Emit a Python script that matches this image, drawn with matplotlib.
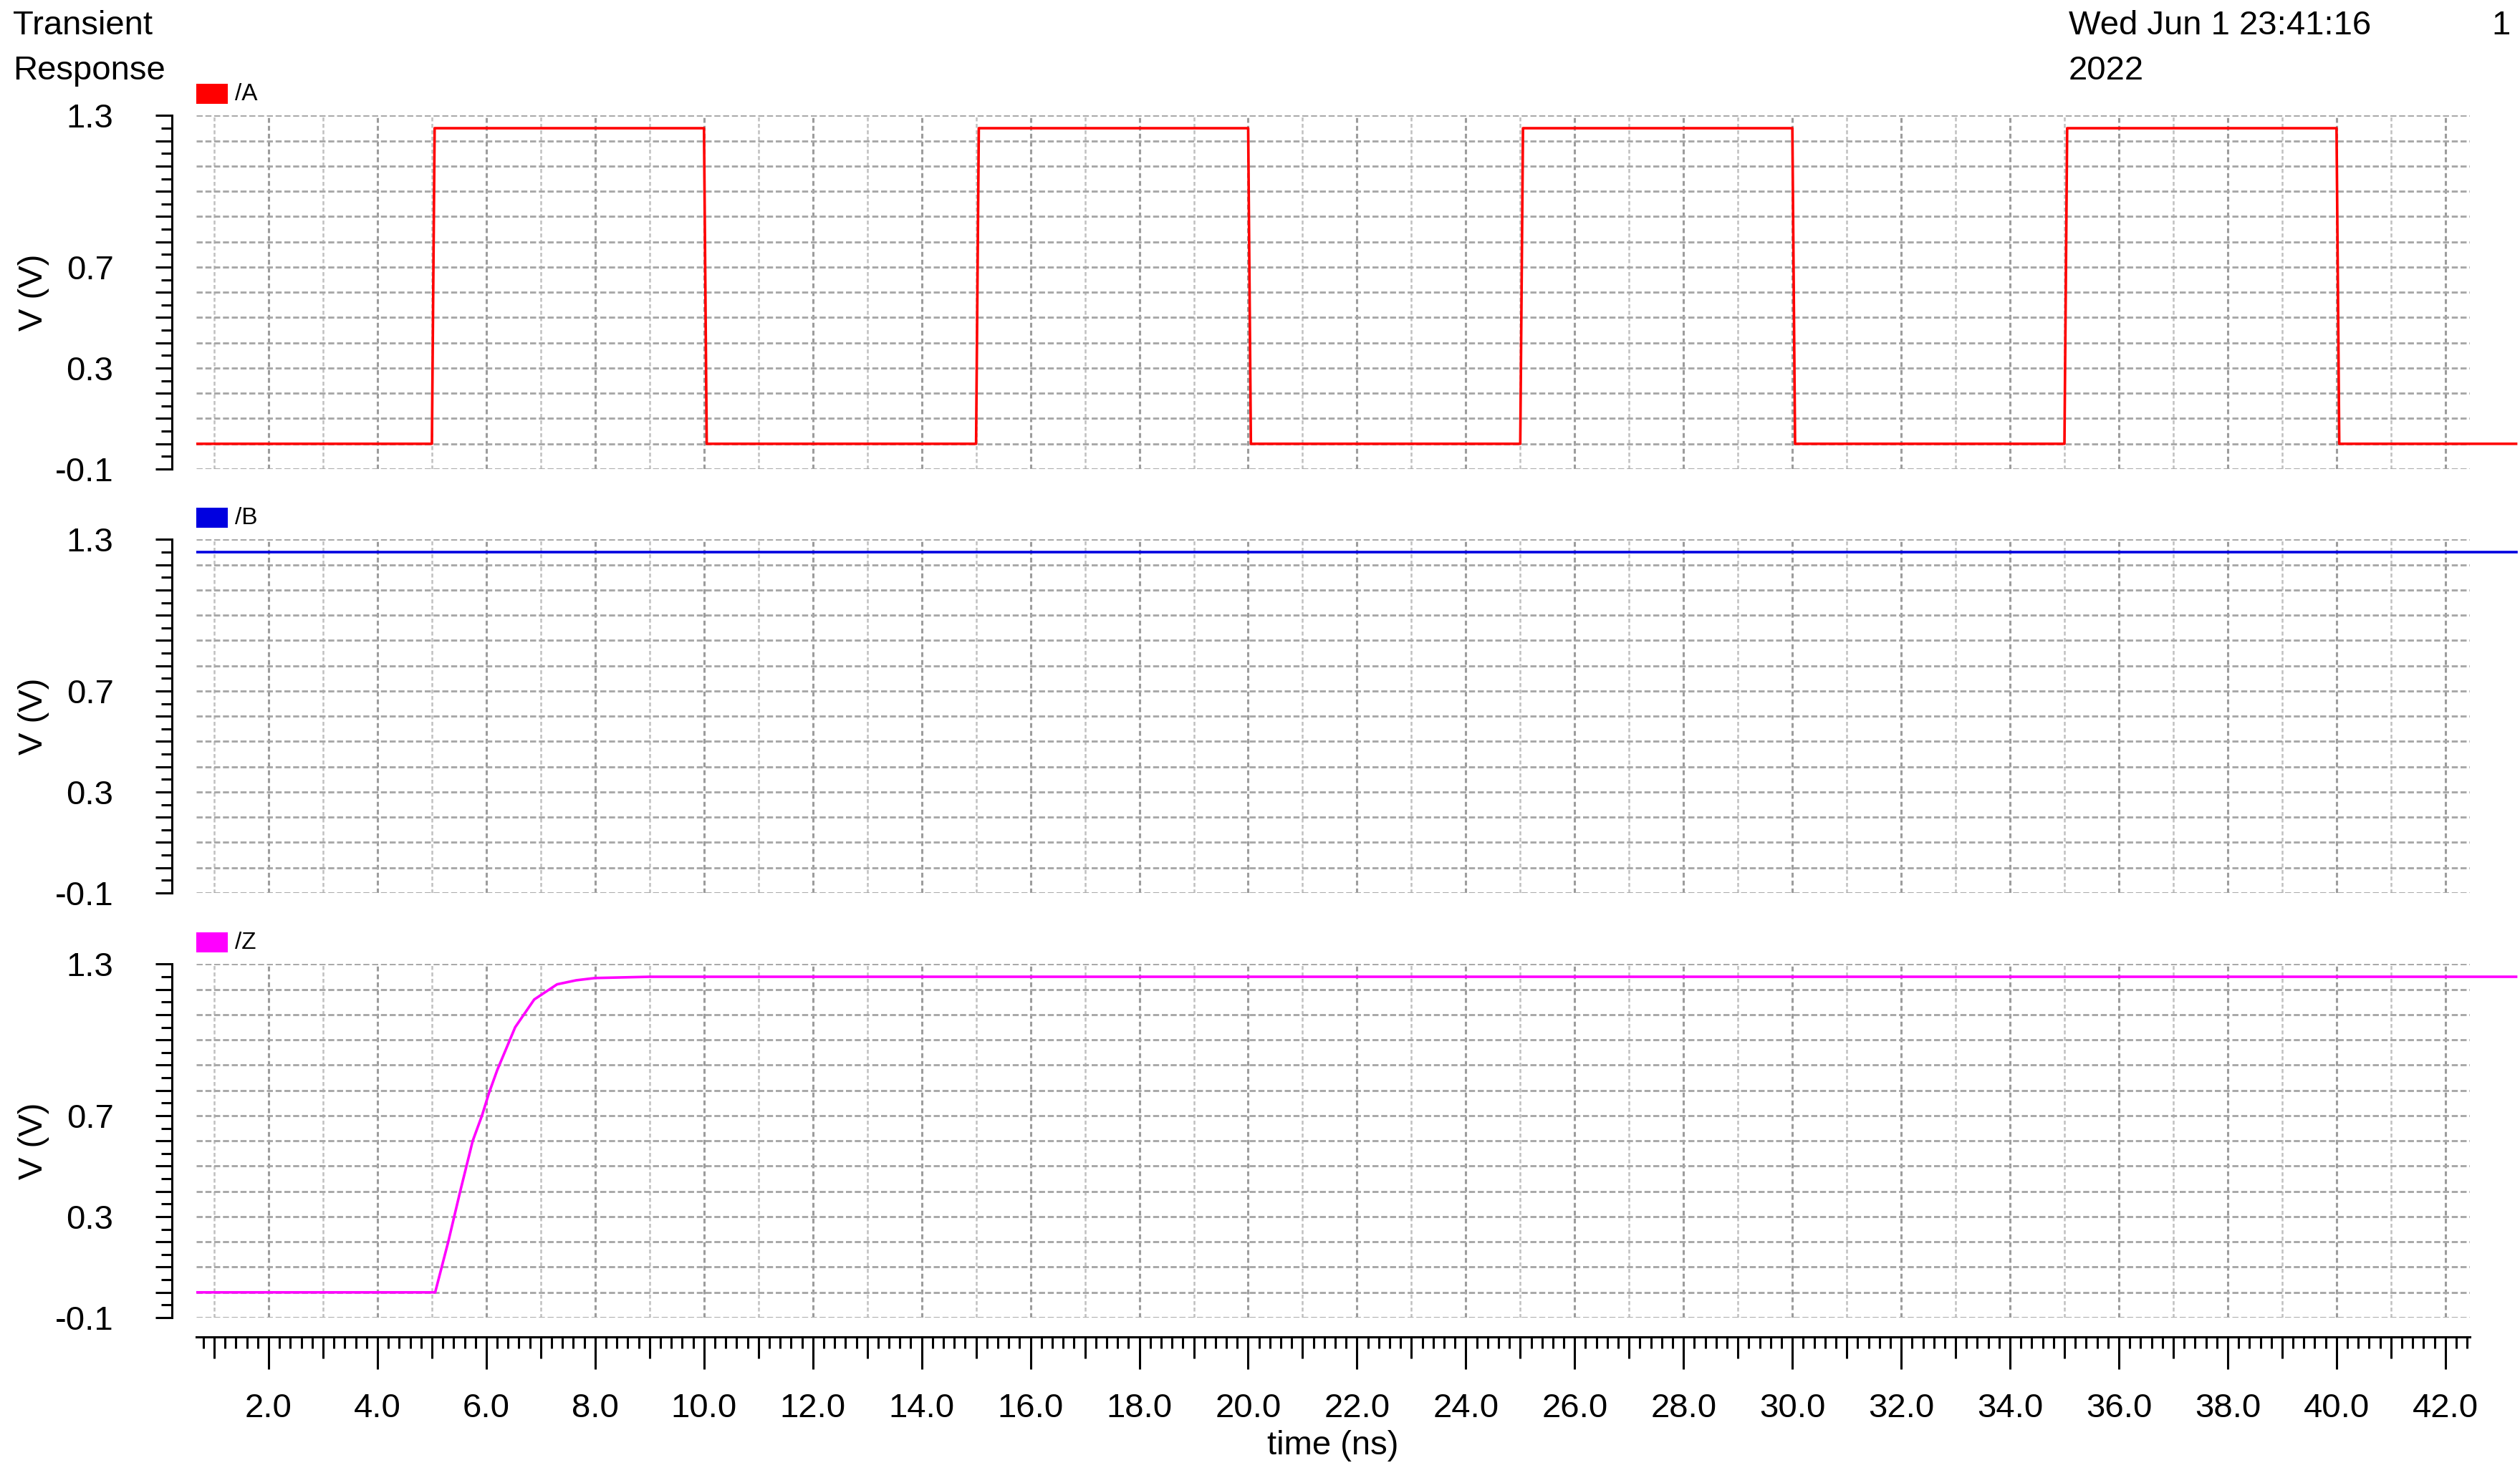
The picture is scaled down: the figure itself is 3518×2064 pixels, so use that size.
import matplotlib
matplotlib.use("Agg")
import matplotlib.pyplot as plt
from matplotlib.patches import Rectangle
from matplotlib.ticker import MultipleLocator, FuncFormatter

plt.rcParams["font.family"] = ["Liberation Sans", "DejaVu Sans"]

# --- waveform data (time in ns, voltage in V) ---
A_T = [0.0, 5.0, 5.05, 10.0, 10.05, 15.0, 15.05, 20.0, 20.05,
       25.0, 25.05, 30.0, 30.05, 35.0, 35.05, 40.0, 40.05, 43.3]
A_V = [0.0, 0.0, 1.25, 1.25, 0.0, 0.0, 1.25, 1.25, 0.0,
       0.0, 1.25, 1.25, 0.0, 0.0, 1.25, 1.25, 0.0, 0.0]

B_T = [0.0, 43.3]
B_V = [1.25, 1.25]

Z_T = [0.0, 5.06, 5.3, 5.52, 5.75, 5.92, 6.05, 6.2, 6.53, 6.88, 7.3, 7.65, 8.0, 9.0, 43.3]
Z_V = [0.0, 0.0, 0.2, 0.4, 0.6, 0.7, 0.79, 0.88, 1.05, 1.16, 1.22, 1.236, 1.245, 1.25, 1.25]

NAMES = ["/A", "/B", "/Z"]
COLORS = ["#ff0000", "#0000e0", "#ff00ff"]

Y_LABELED = [-0.1, 0.3, 0.7, 1.3]
X_RANGE = (0.67, 42.45)
Y_RANGE = (-0.1, 1.3)

W, H, DPI = 3518, 2064, 200
PT = 72 / DPI  # points per output pixel

AX_LEFT, AX_WIDTH, AX_HEIGHT = 274, 3174, 493.6
AX_BOTTOMS = [655, 1247, 1840]  # pixel row of each panel's -0.1 line
FS = 17


def style_panel(ax, show_x):
    ax.set_xlim(*X_RANGE)
    ax.set_ylim(*Y_RANGE)
    for side in ("top", "right"):
        ax.spines[side].set_visible(False)
    ax.spines["left"].set_position(("outward", 34 * PT))
    ax.spines["left"].set_linewidth(1.1)
    ax.spines["bottom"].set_position(("outward", 27 * PT))
    ax.spines["bottom"].set_linewidth(1.1)
    ax.spines["bottom"].set_visible(show_x)

    # y axis: long ticks every 0.1 V, short ones in between
    ax.yaxis.set_major_locator(MultipleLocator(0.1))
    ax.yaxis.set_minor_locator(MultipleLocator(0.05))
    ax.yaxis.set_major_formatter(FuncFormatter(
        lambda v, _: f"{v:.1f}" if any(abs(v - y) < 1e-6 for y in Y_LABELED) else ""))
    ax.tick_params(axis="y", which="major", length=8.3, width=1.1, labelsize=FS, pad=21)
    ax.tick_params(axis="y", which="minor", length=5.4, width=1.1)
    ax.grid(axis="y", which="major", color="#a8a8a8", lw=1.05, ls=(0, (2.9, 1.3)))

    # x axis: grid every ns, long ticks every 2 ns, minor every 0.2 ns
    ax.xaxis.set_major_locator(MultipleLocator(1))
    ax.xaxis.set_minor_locator(MultipleLocator(0.2))
    ax.xaxis.set_major_formatter(FuncFormatter(
        lambda v, _: f"{v:.1f}" if round(v) % 2 == 0 else ""))
    ax.tick_params(axis="x", which="major", length=16.2, width=1.1, labelsize=FS, pad=12)
    ax.tick_params(axis="x", which="minor", length=5.8, width=1.1)
    ax.grid(axis="x", which="major", color="#c0c0c0", lw=0.9, ls=(0, (2.2, 1.4)))
    locs = ax.xaxis.get_majorticklocs()
    for loc, tick in zip(locs, ax.xaxis.get_major_ticks()):
        if round(loc) % 2 == 0:
            tick.gridline.set_color("#9c9c9c")
            tick.gridline.set_linewidth(1.1)
        else:
            tick.tick1line.set_markersize(10.8)
    if not show_x:
        ax.tick_params(axis="x", which="both", bottom=False, labelbottom=False)

    ax.set_ylabel("V (V)", fontsize=FS, va="center")
    ax.yaxis.set_label_coords((47 - AX_LEFT) / AX_WIDTH, 0.5)


def add_legend_tag(fig, bottom_px, name, color):
    top_px = bottom_px - AX_HEIGHT
    fig.add_artist(Rectangle((AX_LEFT / W, 1 - (top_px - 16) / H), 44 / W, 28 / H,
                             transform=fig.transFigure, color=color, lw=0))
    fig.text(328 / W, 1 - (top_px - 30) / H, name, fontsize=12, va="center", ha="left")


def main():
    fig = plt.figure(figsize=(W / DPI, H / DPI), dpi=DPI)
    series = [(A_T, A_V), (B_T, B_V), (Z_T, Z_V)]

    for i, ((t, v), name, color, bottom_px) in enumerate(zip(series, NAMES, COLORS, AX_BOTTOMS)):
        ax = fig.add_axes([AX_LEFT / W, 1 - bottom_px / H, AX_WIDTH / W, AX_HEIGHT / H])
        last = i == len(series) - 1
        style_panel(ax, show_x=last)
        (line,) = ax.plot(t, v, color=color, lw=1.3)
        # trace is cut at the left edge but runs past the grid on the right
        line.set_clip_path(Rectangle((0, -0.1), 1.5, 1.2, transform=ax.transAxes))
        add_legend_tag(fig, bottom_px, name, color)
        if last:
            ax.set_xlabel("time (ns)", fontsize=FS, va="center")
            ax.xaxis.set_label_coords(0.5, -(2019 - bottom_px) / AX_HEIGHT)

    fig.text(18 / W, 1 - 36 / H, "Transient", fontsize=FS, va="center")
    fig.text(18 / W, 1 - 99 / H, "Response", fontsize=FS, va="center")
    fig.text(2888 / W, 1 - 36 / H, "Wed Jun 1 23:41:16", fontsize=FS, va="center")
    fig.text(2888 / W, 1 - 99 / H, "2022", fontsize=FS, va="center")
    fig.text(3491 / W, 1 - 36 / H, "1", fontsize=FS, va="center", ha="center")

    fig.savefig("out.png", dpi=DPI)


if __name__ == "__main__":
    main()
